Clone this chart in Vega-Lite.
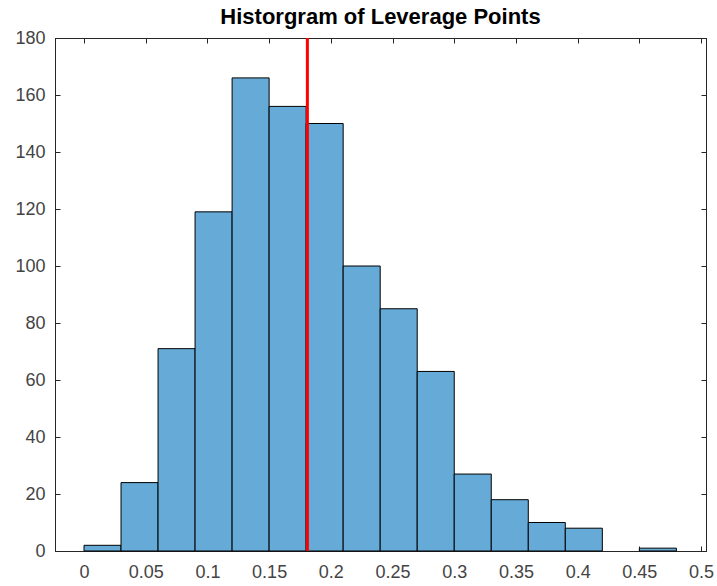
{
  "$schema": "https://vega.github.io/schema/vega-lite/v6.json",
  "autosize": "none",
  "width": 651,
  "height": 513,
  "padding": {"left": 55, "top": 38, "right": 11, "bottom": 35},
  "background": "white",
  "title": {"text": "Historgram of Leverage Points", "font": "Liberation Sans", "fontSize": 22, "fontWeight": "bold", "color": "#000000", "offset": 0},
  "config": {
    "view": {"stroke": "#262626", "strokeWidth": 1},
    "axis": {"grid": false, "domainColor": "#262626", "tickColor": "#262626", "labelColor": "#444444", "labelFont": "Liberation Sans", "labelFontSize": 18, "title": null, "tickSize": -5, "domain": true}
  },
  "datasets": {
    "bins": [
      {"bin_start": 0.00, "bin_end": 0.03, "count": 2},
      {"bin_start": 0.03, "bin_end": 0.06, "count": 24},
      {"bin_start": 0.06, "bin_end": 0.09, "count": 71},
      {"bin_start": 0.09, "bin_end": 0.12, "count": 119},
      {"bin_start": 0.12, "bin_end": 0.15, "count": 166},
      {"bin_start": 0.15, "bin_end": 0.18, "count": 156},
      {"bin_start": 0.18, "bin_end": 0.21, "count": 150},
      {"bin_start": 0.21, "bin_end": 0.24, "count": 100},
      {"bin_start": 0.24, "bin_end": 0.27, "count": 85},
      {"bin_start": 0.27, "bin_end": 0.30, "count": 63},
      {"bin_start": 0.30, "bin_end": 0.33, "count": 27},
      {"bin_start": 0.33, "bin_end": 0.36, "count": 18},
      {"bin_start": 0.36, "bin_end": 0.39, "count": 10},
      {"bin_start": 0.39, "bin_end": 0.42, "count": 8},
      {"bin_start": 0.45, "bin_end": 0.48, "count": 1}
    ],
    "threshold": [{"leverage": 0.181}]
  },
  "layer": [
    {
      "data": {"name": "bins"},
      "mark": {"type": "rect", "fill": "#66AAD7", "stroke": "#000000", "strokeWidth": 1},
      "encoding": {
        "x": {"field": "bin_start", "type": "quantitative", "scale": {"domain": [-0.0235, 0.504], "nice": false, "zero": false},
              "axis": {"orient": "bottom", "values": [0, 0.05, 0.1, 0.15, 0.2, 0.25, 0.3, 0.35, 0.4, 0.45, 0.5], "format": "~g", "labelPadding": 17}},
        "x2": {"field": "bin_end"},
        "y": {"field": "count", "type": "quantitative", "scale": {"domain": [0, 180], "nice": false},
              "axis": {"orient": "left", "values": [0, 20, 40, 60, 80, 100, 120, 140, 160, 180], "labelPadding": 15}},
        "y2": {"datum": 0}
      }
    },
    {
      "data": {"name": "threshold"},
      "mark": {"type": "rule", "color": "#FF0000", "strokeWidth": 3},
      "encoding": {
        "x": {"field": "leverage", "type": "quantitative",
              "axis": {"orient": "top", "values": [0, 0.05, 0.1, 0.15, 0.2, 0.25, 0.3, 0.35, 0.4, 0.45, 0.5], "labels": false}}
      }
    },
    {
      "data": {"name": "threshold"},
      "mark": {"type": "rule", "opacity": 0},
      "encoding": {
        "y": {"datum": 0, "type": "quantitative",
              "axis": {"orient": "right", "values": [0, 20, 40, 60, 80, 100, 120, 140, 160, 180], "labels": false}}
      }
    }
  ],
  "resolve": {"axis": {"x": "independent", "y": "independent"}}
}
